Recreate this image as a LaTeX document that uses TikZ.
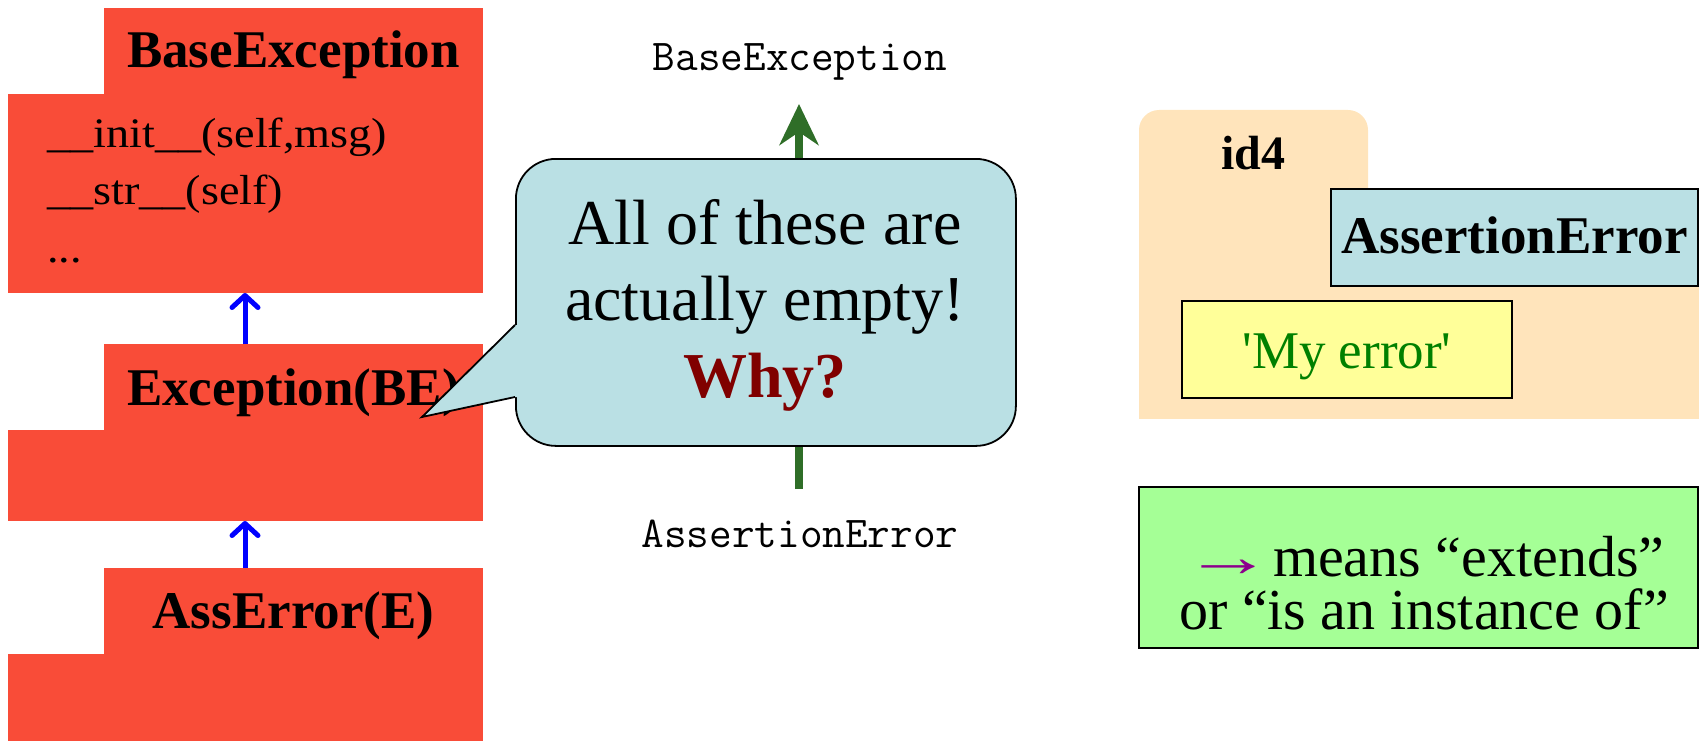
\documentclass[tikz,border=0pt]{standalone}
\usepackage{fontspec}
\usepackage{graphicx}
\setmainfont{Liberation Serif}
\newfontfamily\methfont[FakeStretch=1.1]{Liberation Serif}
\usetikzlibrary{arrows.meta,calc}
\definecolor{boxred}{RGB}{249,76,56}
\definecolor{calloutblue}{RGB}{186,224,228}
\definecolor{peach}{RGB}{255,228,187}
\definecolor{lightyellow}{RGB}{255,255,153}
\definecolor{lightgreen}{RGB}{165,255,150}
\definecolor{darkgreen}{RGB}{47,110,40}
\definecolor{strgreen}{RGB}{0,128,0}
\definecolor{whyred}{RGB}{128,0,0}
\definecolor{arrowpurple}{RGB}{140,0,140}
\begin{document}
\begin{tikzpicture}[x=1pt,y=-1pt,
 redpart/.style={fill=boxred,draw=none,inner sep=0pt,outer sep=0pt,anchor=north west},
 redtitle/.style={font=\fontsize{53}{60}\selectfont\bfseries,inner sep=0pt,anchor=base},
 methline/.style={font=\methfont\fontsize{42}{50}\selectfont,inner sep=0pt,anchor=base west},
 monolabel/.style={font=\ttfamily\fontsize{44}{52}\selectfont,inner sep=0pt,anchor=base},
 bluearrow/.style={draw=blue,line width=5pt,-{Straight Barb[length=12pt,width=26pt,round]}},
 greenarrow/.style={draw=darkgreen,line width=8pt,-{Stealth[length=41pt,width=39pt,inset=13pt]}},
 framebox/.style={draw=black,line width=1.8pt,inner sep=0pt,outer sep=0pt,anchor=north west},
 bubbletext/.style={font=\fontsize{64}{77}\selectfont,inner sep=0pt,anchor=base},
 legendtext/.style={font=\fontsize{58}{53}\selectfont,inner sep=0pt,align=center,anchor=center},
 valtext/.style={font=\fontsize{53}{60}\selectfont,inner sep=0pt,anchor=base},
]
\useasboundingbox (0,0) rectangle (1699,741);

% ---- red class boxes ----
\node[redpart,minimum width=379pt,minimum height=86pt] (baseTab) at (104,8) {};
\node[redpart,minimum width=475pt,minimum height=199pt] (baseBody) at (8,94) {};
\node[redpart,minimum width=379pt,minimum height=86pt] (excTab) at (104,344) {};
\node[redpart,minimum width=475pt,minimum height=91pt] (excBody) at (8,430) {};
\node[redpart,minimum width=379pt,minimum height=86pt] (assTab) at (104,568) {};
\node[redpart,minimum width=475pt,minimum height=87pt] (assBody) at (8,654) {};

\node[redtitle] (baseTitle) at (293.5,68) {BaseException};
\node[methline] (m1) at (47,147) {\_\_init\_\_(self,msg)};
\node[methline] (m2) at (47,204) {\_\_str\_\_(self)};
\node[methline] (m3) at (47,262) {...};
\node[redtitle] (excTitle) at (293.5,405) {Exception(BE)};
\node[redtitle] (assTitle) at (293.5,628) {AssError(E)};

\coordinate (bx) at (245,0);
\draw[bluearrow] (bx |- excTab.north) -- (bx |- baseBody.south);
\draw[bluearrow] (bx |- assTab.north) -- (bx |- excBody.south);

% ---- middle hierarchy ----
\node[monolabel] (baseE) at (800,71) {BaseException};
\node[monolabel] (assE) at (800,547) {AssertionError};
\coordinate (gbot) at (799,489);
\coordinate (gtop) at (799,104);
\draw[greenarrow] (gbot) -- (gtop);

% ---- callout ----
\node[fill=calloutblue,draw=black,line width=1.8pt,rounded corners=40pt,
      minimum width=500pt,minimum height=287pt,inner sep=0pt,anchor=north west] (bubble) at (515,158) {};
\fill[calloutblue] (422,417) -- (515,325) -- (520,325) -- (520,397) -- (515,397) -- cycle;
\draw[line width=1.8pt,line join=miter] (515,325) -- (422,417) -- (515,397);
\node[bubbletext] (q1) at (765,244) {All of these are};
\node[bubbletext] (q2) at (765,320) {actually empty!};
\node[bubbletext,font=\fontsize{64}{77}\selectfont\bfseries,text=whyred] (q3) at (765,397) {Why?};

% ---- object folder ----
\fill[peach,rounded corners=20pt] (1139,110) rectangle (1368,260);
\fill[peach] (1139,200) rectangle (1699,419);
\node[font=\fontsize{48}{56}\selectfont\bfseries,inner sep=0pt,anchor=base] (id) at (1253,169) {id4};
\node[framebox,fill=calloutblue,minimum width=367pt,minimum height=97pt] (clsbox) at (1331,189) {};
\node[redtitle] (clsname) at (1514.5,253) {AssertionError};
\node[framebox,fill=lightyellow,minimum width=330pt,minimum height=97pt] (valbox) at (1182,301) {};
\node[valtext,text=strgreen] (val) at (1347,368) {\textquotesingle My error\textquotesingle};

% ---- legend ----
\node[framebox,fill=lightgreen,minimum width=559pt,minimum height=161pt] (legend) at (1139,487) {};
\node[legendtext] (ltext) at (1424,583) {\textcolor{arrowpurple}{\scalebox{1.55}[1]{→}}\kern-15pt{} means “extends”\\or “is an instance of”};
\end{tikzpicture}
\end{document}
